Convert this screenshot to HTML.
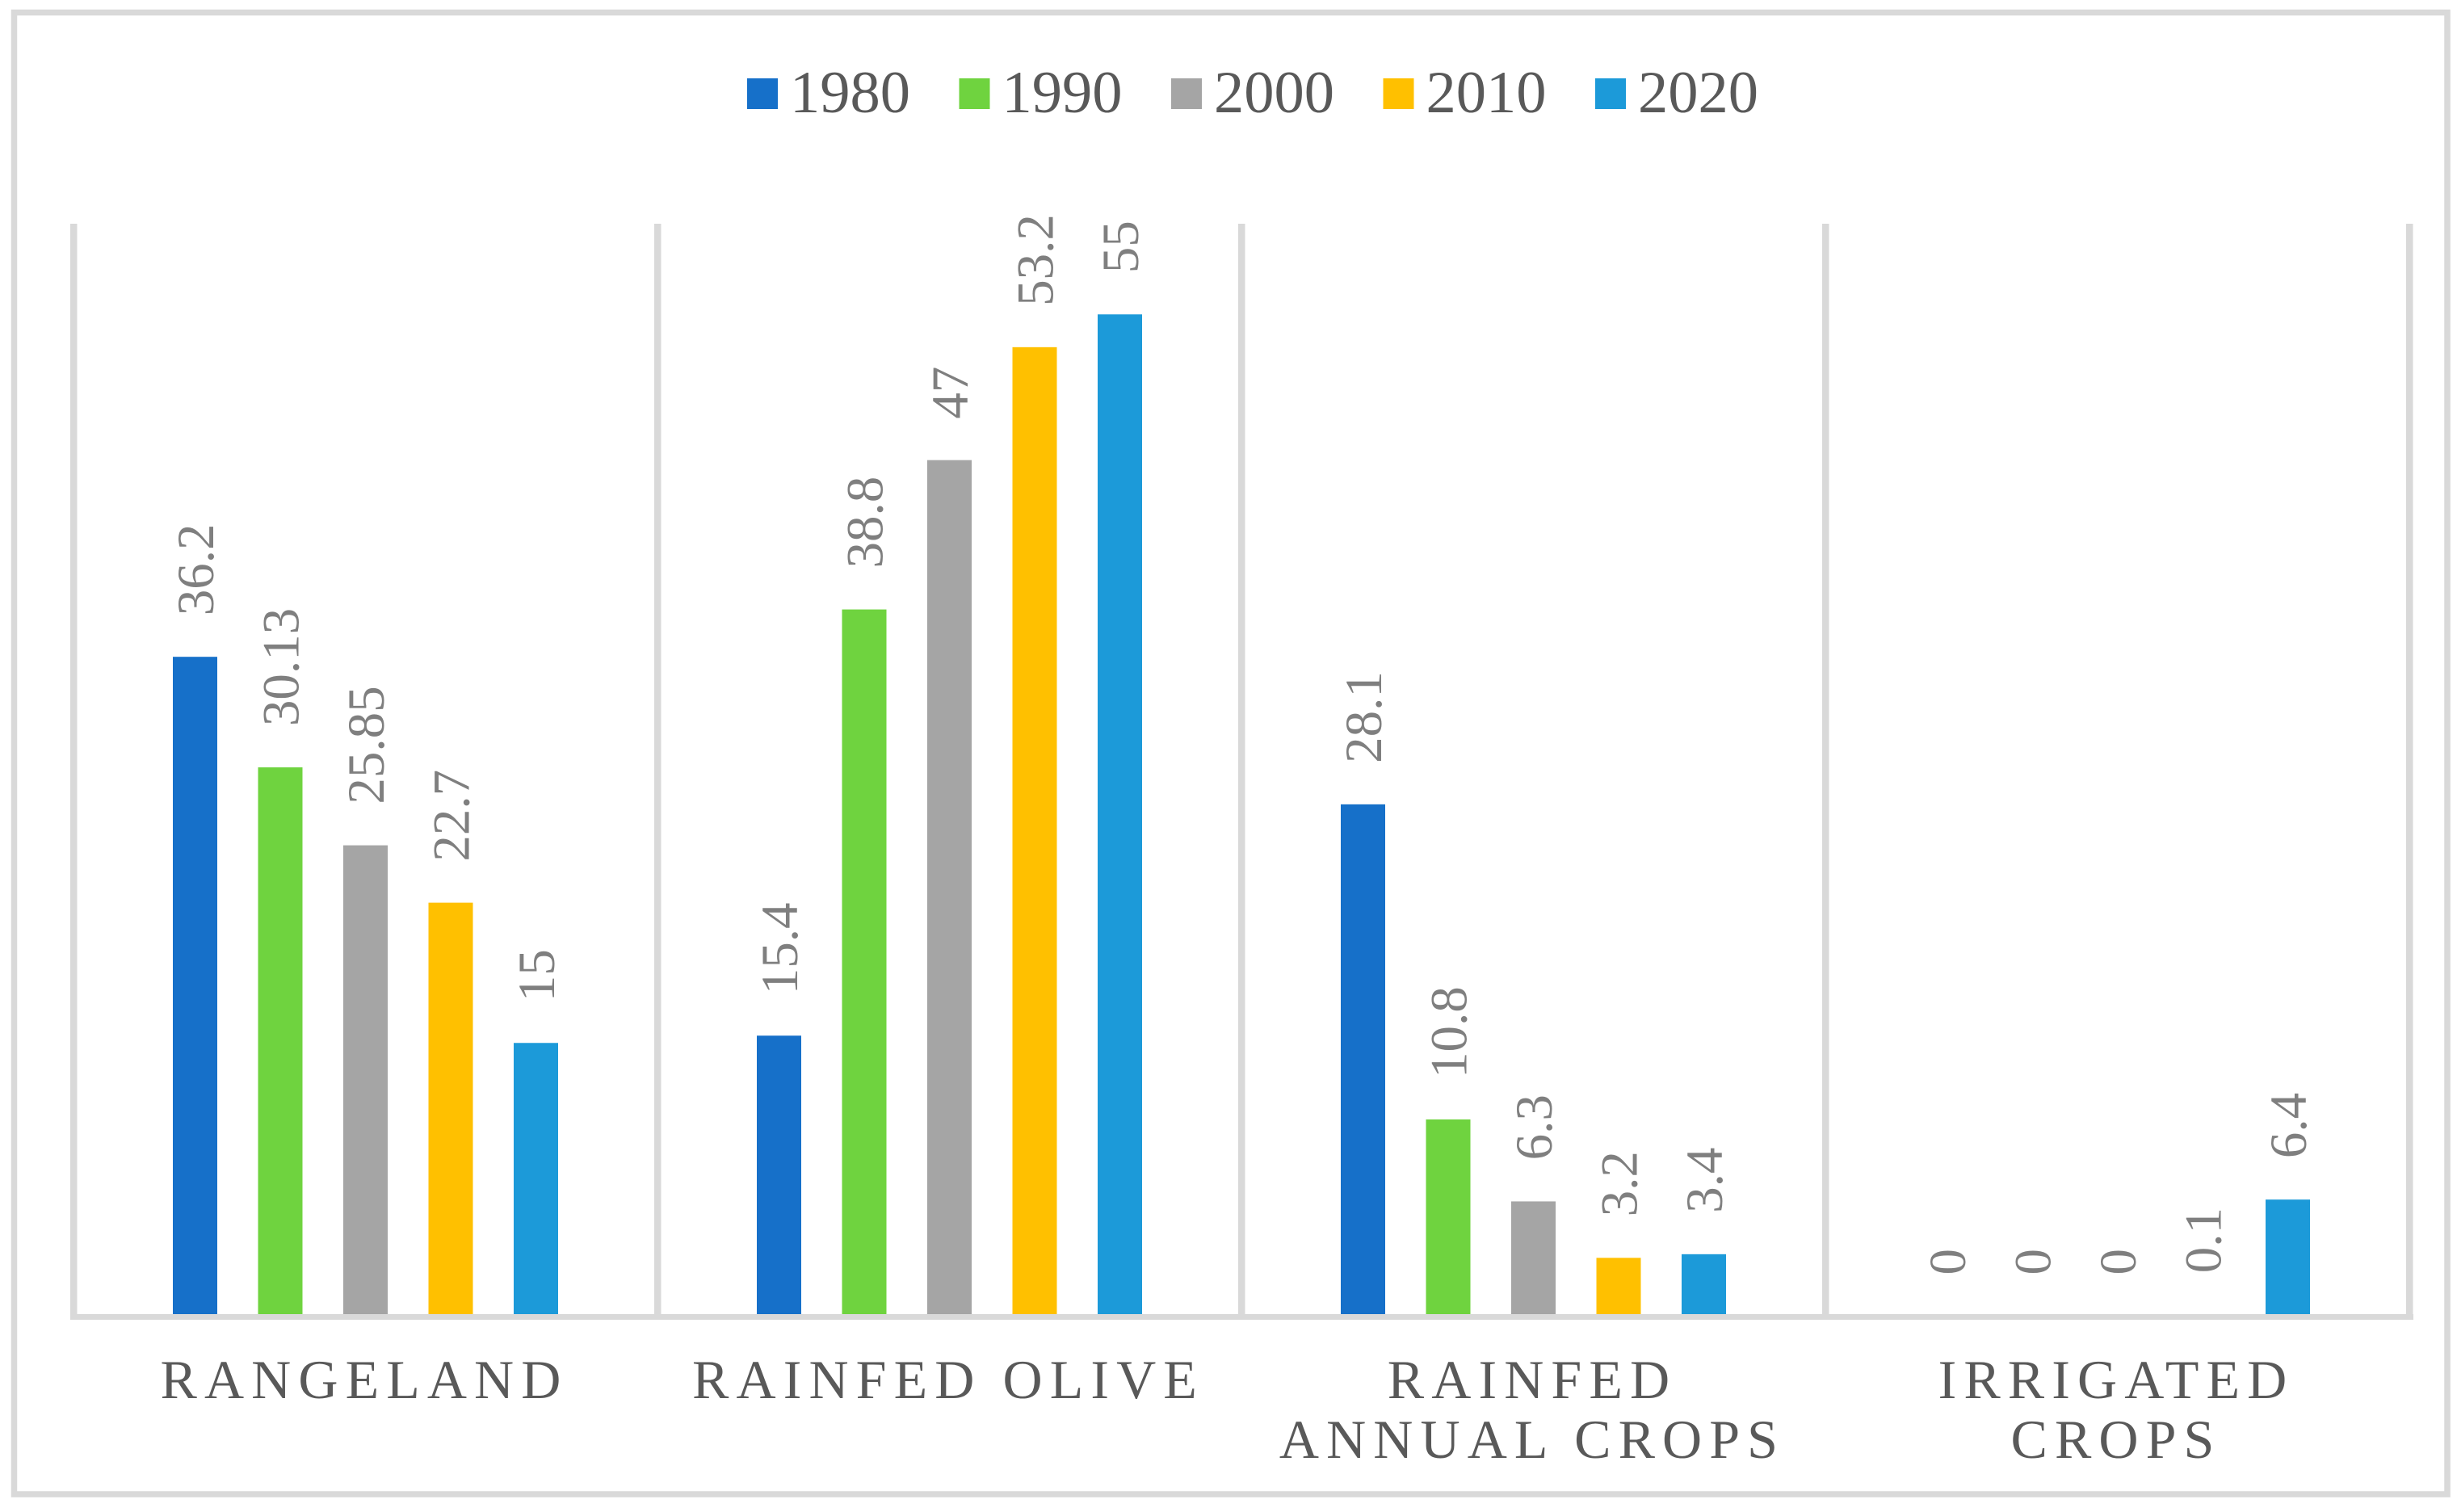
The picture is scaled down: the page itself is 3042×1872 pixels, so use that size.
<!DOCTYPE html>
<html lang="en">
<head>
<meta charset="utf-8">
<title>Land use by category, 1980–2020</title>
<style>
html,body{margin:0;padding:0;background:#fff;width:3042px;height:1872px;overflow:hidden}
svg{display:block}
.cat{font-family:"Liberation Serif",serif;font-size:68px;letter-spacing:9.1px;fill:#595959}
.leg{font-family:"Liberation Serif",serif;font-size:74.5px;fill:#595959}
.val{font-family:"Liberation Serif",serif;font-size:65px;fill:#7f7f7f}
</style>
</head>
<body>
<svg id="chart" xmlns="http://www.w3.org/2000/svg" width="3042" height="1872" viewBox="0 0 3042 1872">
  <rect x="0" y="0" width="3042" height="1872" fill="#ffffff"/>
  <rect x="17.5" y="15.5" width="3012.5" height="1834.5" fill="none" stroke="#d9d9d9" stroke-width="7.5"/>
  <g id="separators"></g>
  <g id="bars"></g>
  <rect x="87" y="1627" width="2901" height="7" fill="#d9d9d9"/>
  <g id="values"></g>
  <g id="categories"></g>
  <g id="legend"></g>
</svg>
<script>
var categories = [["RANGELAND"], ["RAINFED OLIVE"], ["RAINFED", "ANNUAL CROPS"], ["IRRIGATED", "CROPS"]];
var seriesNames = ["1980", "1990", "2000", "2010", "2020"];
var values1980 = [36.2, 15.4, 28.1, 0];
var values1990 = [30.13, 38.8, 10.8, 0];
var values2000 = [25.85, 47, 6.3, 0];
var values2010 = [22.7, 53.2, 3.2, 0.1];
var values2020 = [15, 55, 3.4, 6.4];
var allSeries = [values1980, values1990, values2000, values2010, values2020];
var seriesColors = ["#1670c9", "#6fd33f", "#a5a5a5", "#ffc000", "#1c9ad9"];

var NS = "http://www.w3.org/2000/svg";
var PLOT_LEFT = 91, BAND = 723, BASELINE = 1629.5, PER_UNIT = 22.55;
var BAR_STEP = 105.5, BAR_WIDTH = 55;

function xBand(c) { return PLOT_LEFT + BAND * c; }
function xCenter(c) { return xBand(c) + BAND / 2; }
function xBar(c, s) { return xCenter(c) + (s - 2) * BAR_STEP; }
function yValue(v) { return BASELINE - v * PER_UNIT; }
function make(tag, parent) {
  var el = document.createElementNS(NS, tag);
  parent.appendChild(el);
  return el;
}

var sepGroup = document.getElementById("separators");
for (var k = 0; k <= categories.length; k++) {
  var sep = make("rect", sepGroup);
  
  
  sep.setAttribute("x", xBand(k) - 4);
  sep.setAttribute("y", 277);
  sep.setAttribute("width", 8.5);
  sep.setAttribute("height", 1627 - 277);
  sep.setAttribute("fill", "#d9d9d9");
}

var barGroup = document.getElementById("bars");
var valGroup = document.getElementById("values");
allSeries.forEach(function (series, s) {
  series.forEach(function (v, c) {
    var cx = xBar(c, s), top = yValue(v);
    var bar = make("rect", barGroup);
    
    
    bar.setAttribute("x", cx - BAR_WIDTH / 2);
    bar.setAttribute("y", top);
    bar.setAttribute("width", BAR_WIDTH);
    bar.setAttribute("height", BASELINE - top);
    bar.setAttribute("fill", seriesColors[s]);

    var tx = cx + 22.5, ty = top - 51;
    var label = make("text", valGroup);
    
    
    label.setAttribute("class", "val");
    label.setAttribute("x", tx);
    label.setAttribute("y", ty);
    label.setAttribute("transform", "rotate(-90 " + tx + " " + ty + ")");
    label.textContent = String(v);
  });
});

var catGroup = document.getElementById("categories");
categories.forEach(function (lines, c) {
  lines.forEach(function (line, n) {
    var t = make("text", catGroup);
    
    
    t.setAttribute("class", "cat");
    t.setAttribute("x", xCenter(c) - 1.5);
    t.setAttribute("y", 1731 + n * 74);
    t.setAttribute("text-anchor", "middle");
    t.textContent = line;
  });
});

var legGroup = document.getElementById("legend");
seriesNames.forEach(function (name, s) {
  var lx = 925 + s * 262.5;
  var swatch = make("rect", legGroup);
  
  
  swatch.setAttribute("x", lx);
  swatch.setAttribute("y", 97);
  swatch.setAttribute("width", 38);
  swatch.setAttribute("height", 38);
  swatch.setAttribute("fill", seriesColors[s]);
  var text = make("text", legGroup);
  
  
  text.setAttribute("class", "leg");
  text.setAttribute("x", lx + 53);
  text.setAttribute("y", 139);
  text.textContent = name;
});
</script>
</body>
</html>
